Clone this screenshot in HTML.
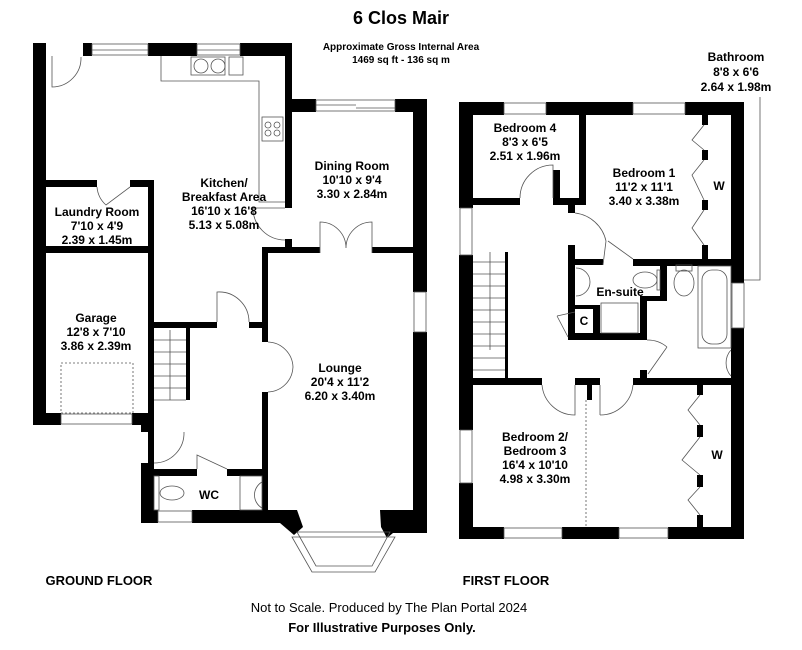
<!DOCTYPE html>
<html><head><meta charset="utf-8"><style>
html,body{margin:0;padding:0;background:#fff;}
svg{display:block;font-family:"Liberation Sans",Arial,sans-serif;}
text{font-weight:bold;fill:#000;}
</style></head><body>
<svg width="802" height="650" viewBox="0 0 802 650" xmlns="http://www.w3.org/2000/svg">
<g fill="#000">
<rect x="33" y="43" width="13" height="382"/>
<rect x="83" y="43" width="9" height="13"/>
<rect x="148" y="43" width="49" height="13"/>
<rect x="240" y="43" width="52" height="13"/>
<rect x="285" y="43" width="7" height="165"/>
<rect x="292" y="99" width="24" height="13"/>
<rect x="395" y="99" width="32" height="13"/>
<rect x="413" y="99" width="14" height="193"/>
<rect x="413" y="332" width="14" height="201"/>
<rect x="262" y="247" width="58" height="6"/>
<rect x="372" y="247" width="41" height="6"/>
<rect x="285" y="239" width="7" height="14"/>
<rect x="262" y="247" width="6" height="95"/>
<rect x="262" y="392" width="6" height="128"/>
<rect x="153" y="322" width="64" height="6"/>
<rect x="249" y="322" width="13" height="6"/>
<rect x="46" y="180" width="51" height="7"/>
<rect x="130" y="180" width="24" height="7"/>
<rect x="148" y="180" width="6" height="290"/>
<rect x="46" y="246" width="107" height="7"/>
<rect x="33" y="413" width="28" height="12"/>
<rect x="132" y="413" width="22" height="12"/>
<rect x="141" y="420" width="13" height="12"/>
<rect x="186" y="328" width="4" height="72"/>
<rect x="141" y="463" width="13" height="60"/>
<rect x="154" y="469" width="43" height="7"/>
<rect x="227" y="469" width="35" height="7"/>
<rect x="192" y="510" width="105" height="13"/>
<rect x="141" y="510" width="17" height="13"/>
<polygon points="280,510 297,510 303,527 294,535 280,523"/>
<polygon points="380,510 427,510 427,533 393,533 387,538 381,527"/>
<rect x="459" y="102" width="14" height="106"/>
<rect x="459" y="255" width="14" height="175"/>
<rect x="459" y="483" width="14" height="56"/>
<rect x="459" y="102" width="45" height="13"/>
<rect x="546" y="102" width="87" height="13"/>
<rect x="685" y="102" width="59" height="13"/>
<rect x="731" y="102" width="13" height="181"/>
<rect x="731" y="328" width="13" height="211"/>
<rect x="459" y="527" width="45" height="12"/>
<rect x="562" y="527" width="57" height="12"/>
<rect x="668" y="527" width="76" height="12"/>
<rect x="579" y="115" width="7" height="90"/>
<rect x="473" y="198" width="47" height="7"/>
<rect x="553" y="198" width="33" height="7"/>
<rect x="553" y="170" width="7" height="35"/>
<rect x="568" y="205" width="7" height="8"/>
<rect x="633" y="259" width="111" height="7"/>
<rect x="702" y="115" width="6" height="10"/><rect x="702" y="150" width="6" height="10"/><rect x="702" y="200" width="6" height="10"/><rect x="702" y="245" width="6" height="14"/>
<rect x="568" y="245" width="7" height="95"/>
<rect x="568" y="259" width="35" height="6"/>
<rect x="568" y="333" width="75" height="7"/>
<rect x="660" y="265" width="7" height="35"/>
<rect x="640" y="296" width="27" height="5"/>
<rect x="640" y="300" width="7" height="40"/>
<rect x="593" y="305" width="7" height="35"/>
<rect x="575" y="305" width="25" height="4"/>
<rect x="640" y="370" width="7" height="15"/>
<rect x="473" y="378" width="69" height="7"/>
<rect x="575" y="378" width="25" height="7"/>
<rect x="587" y="378" width="5" height="22"/>
<rect x="633" y="378" width="98" height="7"/>
<rect x="505" y="252" width="3" height="126"/>
<rect x="697" y="385" width="6" height="10"/><rect x="697" y="425" width="6" height="12"/><rect x="697" y="475" width="6" height="12"/><rect x="697" y="515" width="6" height="12"/>
</g>
<g fill="none" stroke="#555" stroke-width="0.8">
<rect x="92" y="44" width="56" height="11"/><line x1="92" y1="50" x2="148" y2="50"/>
<rect x="197" y="44" width="43" height="11"/><line x1="197" y1="50" x2="240" y2="50"/>
<rect x="316" y="100" width="79" height="11"/><line x1="316" y1="105" x2="356" y2="105"/><line x1="356" y1="108" x2="395" y2="108"/>
<rect x="414" y="292" width="12" height="40"/>
<rect x="61" y="414" width="71" height="10"/>
<rect x="158" y="511" width="34" height="11"/>
<polygon points="297,532 316,566 372,566 390,532"/>
<polygon points="292,537 312,572 375,572 395,537"/>
<rect x="504" y="103" width="42" height="11"/><rect x="633" y="103" width="52" height="11"/>
<rect x="460" y="208" width="12" height="47"/><rect x="460" y="430" width="12" height="53"/>
<rect x="504" y="528" width="58" height="10"/><rect x="619" y="528" width="49" height="10"/>
<rect x="732" y="283" width="12" height="45"/>
<path d="M52 56 L52 87 A29 29 0 0 0 81 57"/>
<path d="M97 187 A27 27 0 0 0 106 205 L130 187"/>
<path d="M253 208 L285 208 M253 208 A32 32 0 0 0 285 240"/>
<path d="M320 253 L320 222 A26 26 0 0 1 346 248 A26 26 0 0 1 372 222 L372 253"/>
<path d="M217 322 L217 292 A30 30 0 0 1 249 322"/>
<path d="M268 342 A26 26 0 0 1 293 367 A26 26 0 0 1 268 392"/>
<path d="M154 463 A30 30 0 0 0 184 432"/>
<path d="M197 469 L197 455 L227 469"/>
<path d="M520 198 A33 33 0 0 1 553 165 L553 198"/>
<path d="M575 213 A36 36 0 0 1 606 241 L603 265 M608 241 L633 259"/>
<path d="M557 316 L568 337 M557 316 L575 312"/>
<path d="M667 347 L648 374 M647 340 A30 30 0 0 1 667 347"/>
<path d="M542 385 A33 33 0 0 0 575 415 L575 385 M600 415 A33 33 0 0 0 633 385"/>
<path d="M600 385 L600 415"/>
<path d="M704 125 L692 140 L704 150 M704 160 L692 175 L704 200 M704 210 L692 228 L704 245"/>
<path d="M700 395 L688 410 L700 425 M700 437 L682 460 L700 475 M700 487 L688 500 L700 515"/>
<path d="M161 56 L161 81 L259 81 L259 202 L285 202"/>
<rect x="191" y="57" width="34" height="18"/><circle cx="201" cy="66" r="7"/><circle cx="218" cy="66" r="7"/>
<rect x="229" y="57" width="14" height="18"/>
<rect x="262" y="117" width="21" height="24"/><circle cx="268" cy="125" r="3"/><circle cx="277" cy="125" r="3"/><circle cx="268" cy="133" r="3"/><circle cx="277" cy="133" r="3"/>
<path d="M154 340 H186 M154 352 H186 M154 364 H186 M154 376 H186 M154 388 H186 M154 400 H186 M170 330 V400"/>
<path d="M473 262 H505 M473 274 H505 M473 286 H505 M473 298 H505 M473 310 H505 M473 322 H505 M473 334 H505 M473 346 H505 M473 358 H505 M473 370 H505 M490 252 V350"/>
<rect x="61" y="363" width="72" height="50" stroke-dasharray="2,2"/>
<line x1="586" y1="400" x2="586" y2="527" stroke-dasharray="2,2"/>
<rect x="154" y="476" width="5" height="34"/><ellipse cx="172" cy="493" rx="12" ry="7"/>
<rect x="240" y="476" width="22" height="34"/><path d="M262 482 A15 15 0 0 0 262 508"/>
<path d="M576 268 A14 14 0 0 1 576 296"/>
<ellipse cx="645" cy="280" rx="12" ry="8"/><rect x="657" y="270" width="3" height="20"/>
<rect x="601" y="303" width="37" height="30"/>
<ellipse cx="684" cy="283" rx="10" ry="13"/><rect x="676" y="265" width="16" height="6"/>
<rect x="698" y="266" width="33" height="82"/><rect x="702" y="270" width="25" height="74" rx="10"/>
<path d="M731 350 A16 18 0 0 0 731 376"/>
<polyline points="744,280 760,280 760,97"/>
</g>
<text x="401" y="24" font-size="18" text-anchor="middle">6 Clos Mair</text>
<text x="401" y="50" font-size="10" text-anchor="middle">Approximate Gross Internal Area</text>
<text x="401" y="63" font-size="10" text-anchor="middle">1469 sq ft - 136 sq m</text>
<g font-size="12" text-anchor="middle">
<text x="224" y="187">Kitchen/</text><text x="224" y="201">Breakfast Area</text><text x="224" y="215">16'10 x 16'8</text><text x="224" y="229">5.13 x 5.08m</text>
<text x="352" y="170">Dining Room</text><text x="352" y="184">10'10 x 9'4</text><text x="352" y="198">3.30 x 2.84m</text>
<text x="97" y="216">Laundry Room</text><text x="97" y="230">7'10 x 4'9</text><text x="97" y="244">2.39 x 1.45m</text>
<text x="96" y="322">Garage</text><text x="96" y="336">12'8 x 7'10</text><text x="96" y="350">3.86 x 2.39m</text>
<text x="340" y="372">Lounge</text><text x="340" y="386">20'4 x 11'2</text><text x="340" y="400">6.20 x 3.40m</text>
<text x="209" y="499">WC</text>
<text x="736" y="61">Bathroom</text><text x="736" y="76">8'8 x 6'6</text><text x="736" y="91">2.64 x 1.98m</text>
<text x="525" y="132">Bedroom 4</text><text x="525" y="146">8'3 x 6'5</text><text x="525" y="160">2.51 x 1.96m</text>
<text x="644" y="177">Bedroom 1</text><text x="644" y="191">11'2 x 11'1</text><text x="644" y="205">3.40 x 3.38m</text>
<text x="719" y="190">W</text>
<text x="620" y="296">En-suite</text>
<text x="584" y="325">C</text>
<text x="535" y="441">Bedroom 2/</text><text x="535" y="455">Bedroom 3</text><text x="535" y="469">16'4 x 10'10</text><text x="535" y="483">4.98 x 3.30m</text>
<text x="717" y="459">W</text>
</g>
<text x="99" y="585" font-size="13" text-anchor="middle">GROUND FLOOR</text>
<text x="506" y="585" font-size="13" text-anchor="middle">FIRST FLOOR</text>
<text x="389" y="612" font-size="13" text-anchor="middle" style="font-weight:normal">Not to Scale. Produced by The Plan Portal 2024</text>
<text x="382" y="632" font-size="13" text-anchor="middle">For Illustrative Purposes Only.</text>
</svg>
</body></html>
